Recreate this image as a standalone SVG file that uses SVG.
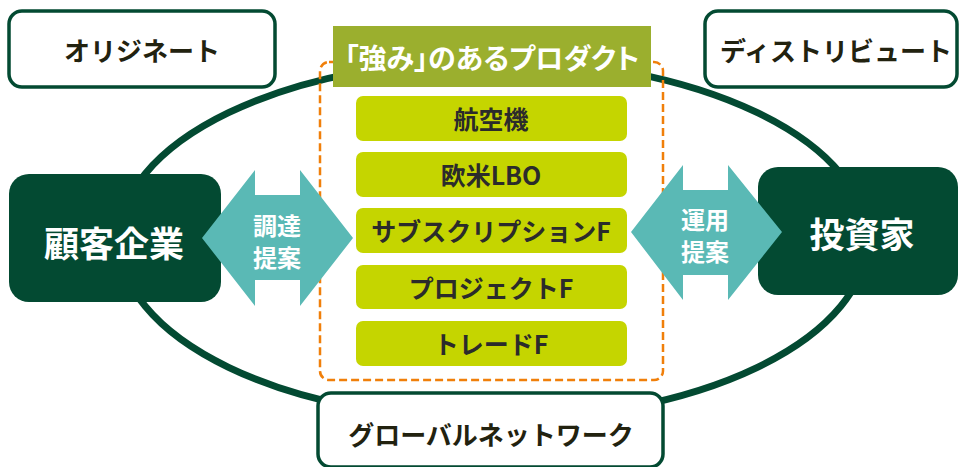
<svg xmlns="http://www.w3.org/2000/svg" width="963" height="467" viewBox="0 0 963 467">
<style>
text{font-family:"Noto Sans CJK JP","Noto Sans",sans-serif;font-weight:bold;text-anchor:middle;dominant-baseline:central}
.outline{fill:#fff;stroke:#034a32;stroke-width:3.5}
.dark{fill:#034a32}
.prod{fill:#c5d500}
.arrow{fill:#5ab9b5}
.t-dark{fill:#22220f;font-size:26px}
.t-prod{fill:#2b2b2b;font-size:25px}
.t-white{fill:#fff}
.palt{font-feature-settings:"palt"}
</style>
<rect width="963" height="467" fill="#fff"/>
<g id="connectors">
  <ellipse cx="493" cy="240" rx="374" ry="180" fill="none" stroke="#034a32" stroke-width="7"/>
</g>
<g id="products-frame">
  <rect x="320" y="62" width="343" height="318" rx="9" fill="none" stroke="#f07f0a" stroke-width="2.5" stroke-dasharray="8 4"/>
</g>
<g id="node-originate">
  <rect class="outline" x="9" y="11" width="266" height="76" rx="13"/>
  <text class="t-dark" x="142" y="49">オリジネート</text>
</g>
<g id="node-distribute">
  <rect class="outline" x="705" y="11" width="252" height="76" rx="13"/>
  <text class="t-dark" x="836" y="49">ディストリビュート</text>
</g>
<g id="node-header">
  <rect x="333" y="26" width="318" height="61" fill="#9baf2e"/>
  <text class="t-white palt" x="492" y="57" font-size="28">「強み」のあるプロダクト</text>
</g>
<g id="node-aircraft">
  <rect class="prod" x="356" y="96" width="271" height="45" rx="7"/>
  <text class="t-prod" x="491" y="118" font-size="27">航空機</text>
</g>
<g id="node-lbo">
  <rect class="prod" x="356" y="152" width="271" height="45" rx="7"/>
  <text class="t-prod" x="491" y="174">欧米LBO</text>
</g>
<g id="node-subscription">
  <rect class="prod" x="356" y="208" width="271" height="45" rx="7"/>
  <text class="t-prod" x="491" y="230" font-size="24">サブスクリプションF</text>
</g>
<g id="node-project">
  <rect class="prod" x="356" y="265" width="271" height="44" rx="7"/>
  <text class="t-prod" x="491" y="287">プロジェクトF</text>
</g>
<g id="node-trade">
  <rect class="prod" x="356" y="321" width="271" height="45" rx="7"/>
  <text class="t-prod" x="491" y="343">トレードF</text>
</g>
<g id="node-customer">
  <rect class="dark" x="9" y="174" width="212" height="128" rx="20"/>
  <text class="t-white" x="114" y="241" font-size="35">顧客企業</text>
</g>
<g id="node-investor">
  <rect class="dark" x="758" y="167" width="200" height="128" rx="20"/>
  <text class="t-white" x="862" y="232" font-size="35">投資家</text>
</g>
<g id="arrow-left">
  <polygon class="arrow" points="202,238 255,170 255,195 300,195 300,170 353,238 300,306 300,280 255,280 255,306"/>
  <text class="t-white" x="277" y="224" font-size="24">調達</text>
  <text class="t-white" x="277" y="256" font-size="24">提案</text>
</g>
<g id="arrow-right">
  <polygon class="arrow" points="631,232 683,165 683,190 728,190 728,165 782,232 728,300 728,275 683,275 683,300"/>
  <text class="t-white" x="705" y="218" font-size="24">運用</text>
  <text class="t-white" x="705" y="250" font-size="24">提案</text>
</g>
<g id="node-global">
  <rect class="outline" x="318" y="393" width="345" height="74" rx="13"/>
  <text class="t-dark" x="491" y="433">グローバルネットワーク</text>
</g>
</svg>
